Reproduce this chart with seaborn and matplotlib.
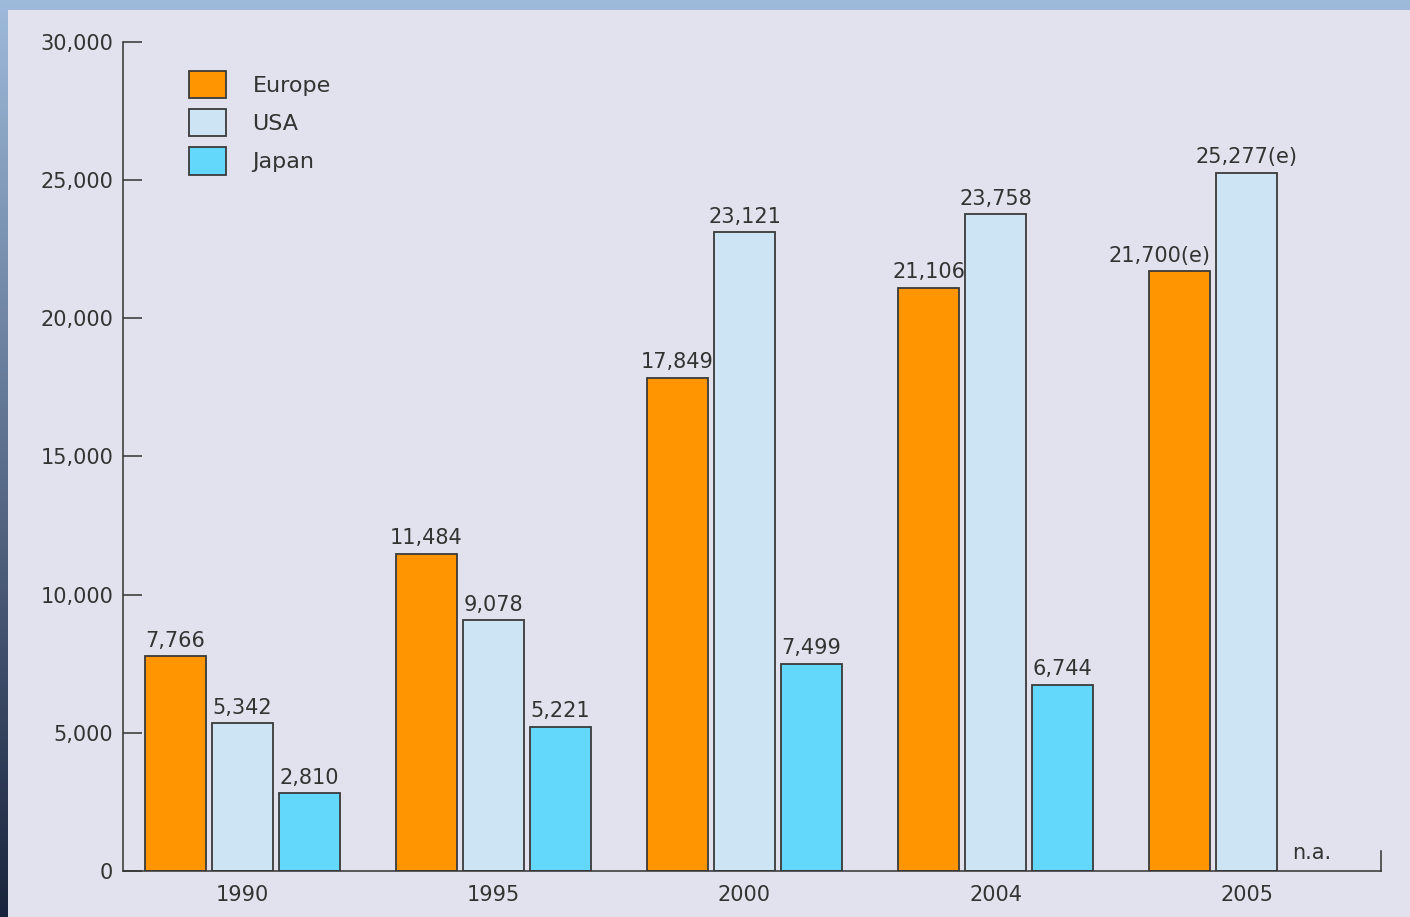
import numpy as np
import pandas as pd
import matplotlib.pyplot as plt
import seaborn as sns
from matplotlib.patches import Rectangle

years = ["1990", "1995", "2000", "2004", "2005"]
regions = ["Europe", "USA", "Japan"]
europe = [7766, 11484, 17849, 21106, 21700]
usa = [5342, 9078, 23121, 23758, 25277]
japan = [2810, 5221, 7499, 6744, np.nan]
estimated = {("Europe", "2005"), ("USA", "2005")}
y_ticks = [0, 5000, 10000, 15000, 20000, 25000, 30000]

colors = {"Europe": "#ff9500", "USA": "#cde4f4", "Japan": "#63d8fb"}
TEXT = "#333333"
PANEL = "#e2e2ee"

sns.set_theme(style="white")
plt.rcParams["font.family"] = ["DejaVu Sans"]

df = pd.DataFrame({
    "year": years * 3,
    "region": ["Europe"] * 5 + ["USA"] * 5 + ["Japan"] * 5,
    "value": europe + usa + japan,
}).dropna()

fig = plt.figure(figsize=(14.1, 9.17), dpi=100)

# screenshot-like backdrop: blue gradient edges + lavender panel
bg = fig.add_axes([0, 0, 1, 1])
grad = np.linspace(0, 1, 256)[:, None]
top_col = np.array([0.62, 0.73, 0.86])
bot_col = np.array([0.10, 0.14, 0.24])
img = top_col * (1 - grad[..., None]) + bot_col * grad[..., None]
img = np.repeat(img, 4, axis=1)
bg.imshow(img, aspect="auto", extent=[0, 1, 0, 1])
bg.add_patch(Rectangle((8 / 1410, 0), 1, 1 - 10 / 917, color=PANEL, lw=0))
bg.set_xlim(0, 1)
bg.set_ylim(0, 1)
bg.axis("off")

ax = fig.add_axes([123 / 1410, 1 - 871 / 917, (1381 - 123) / 1410, (871 - 42) / 917])
ax.set_facecolor("none")

sns.barplot(data=df, x="year", y="value", hue="region", order=years,
            hue_order=regions, palette=colors, width=0.80, gap=0.09,
            edgecolor="#3a3a3a", linewidth=1.3, saturation=1, ax=ax)

for container, region in zip(ax.containers, regions):
    vals = df[df["region"] == region]
    labels = []
    for yr, v in zip(vals["year"], vals["value"]):
        lab = f"{int(v):,}"
        if (region, yr) in estimated:
            lab += "(e)"
        labels.append(lab)
    anns = ax.bar_label(container, labels=labels, padding=4, fontsize=15, color=TEXT)
    # the estimated Europe label sits flush right with its bar
    if region == "Europe":
        anns[-1].set_ha("right")
        anns[-1].xyann = (22, 4)

ax.text(4 + 0.26, 300, "n.a.", ha="center", va="bottom", fontsize=15, color=TEXT)

ax.set_xlim(-0.475, 4.535)
ax.set_ylim(0, 30000)
ax.set_yticks(y_ticks)
ax.set_yticklabels([f"{t:,}" for t in y_ticks])
ax.set_xlabel("")
ax.set_ylabel("")

ax.tick_params(axis="y", left=True, direction="in", length=14, width=1.1,
               color=TEXT, labelsize=15, labelcolor=TEXT, pad=7)
ax.tick_params(axis="x", bottom=False, length=0, labelsize=15,
               labelcolor=TEXT, pad=10)

ax.spines["top"].set_visible(False)
for s in ["left", "bottom", "right"]:
    ax.spines[s].set_color(TEXT)
    ax.spines[s].set_linewidth(1.1)
ax.spines["right"].set_bounds(0, 720)

leg = ax.legend(loc="upper left", bbox_to_anchor=(0.0525, 0.965), frameon=False,
                fontsize=16, handlelength=1.65, handleheight=1.5,
                labelspacing=0.5, handletextpad=1.2, borderpad=0,
                borderaxespad=0)
for t in leg.get_texts():
    t.set_color(TEXT)

fig.savefig("out.png", dpi=100)
